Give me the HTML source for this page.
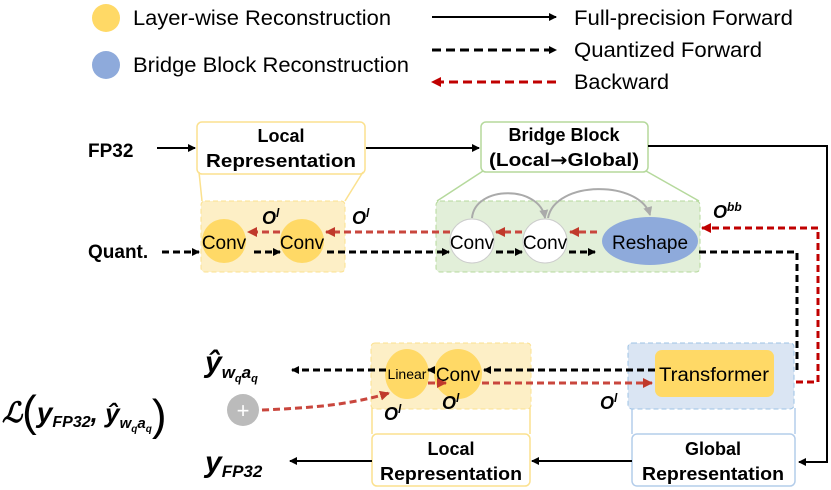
<!DOCTYPE html>
<html><head><meta charset="utf-8"><style>body{margin:0;background:#fff}svg{display:block}text{font-family:"Liberation Sans",sans-serif}</style></head><body>
<svg width="831" height="490" viewBox="0 0 831 490" xmlns="http://www.w3.org/2000/svg">
<defs>
<marker id="ak" markerWidth="8" markerHeight="8" refX="7" refY="4" orient="auto" markerUnits="userSpaceOnUse"><path d="M0,0 L8,4 L0,8z" fill="#000"/></marker>
<marker id="ar" markerWidth="10" markerHeight="10" refX="9" refY="5" orient="auto" markerUnits="userSpaceOnUse"><path d="M0,0 L10,5 L0,10z" fill="#c0392b"/></marker>
<marker id="ad" markerWidth="10" markerHeight="10" refX="9" refY="5" orient="auto" markerUnits="userSpaceOnUse"><path d="M0,0 L10,5 L0,10z" fill="#c00000"/></marker>
<marker id="ag" markerWidth="9" markerHeight="9" refX="8" refY="4.5" orient="auto" markerUnits="userSpaceOnUse"><path d="M0,0 L9,4.5 L0,9z" fill="#aaa"/></marker>
</defs>
<!-- legend -->
<circle cx="106" cy="18" r="14" fill="#ffd966"/>
<circle cx="106" cy="65" r="14" fill="#8eaadb"/>
<text x="133" y="25" font-size="21" textLength="258" lengthAdjust="spacingAndGlyphs">Layer-wise Reconstruction</text>
<text x="133" y="72" font-size="21" textLength="276" lengthAdjust="spacingAndGlyphs">Bridge Block Reconstruction</text>
<line x1="432" y1="17" x2="556" y2="17" stroke="#000" stroke-width="2" marker-end="url(#ak)"/>
<line x1="432" y1="50" x2="556" y2="50" stroke="#000" stroke-width="3" stroke-dasharray="9,5" marker-end="url(#ak)"/>
<line x1="556" y1="82" x2="432" y2="82" stroke="#c00000" stroke-width="3" stroke-dasharray="9,5" marker-end="url(#ad)"/>
<text x="574" y="25" font-size="21" textLength="219" lengthAdjust="spacingAndGlyphs">Full-precision Forward</text>
<text x="574" y="57" font-size="21" textLength="188" lengthAdjust="spacingAndGlyphs">Quantized Forward</text>
<text x="574" y="89" font-size="21" textLength="95" lengthAdjust="spacingAndGlyphs">Backward</text>
<!-- top row -->
<text x="88" y="157" font-size="19" font-weight="bold">FP32</text>
<line x1="157" y1="148" x2="195" y2="148" stroke="#000" stroke-width="2" marker-end="url(#ak)"/>
<rect x="197" y="122" width="168" height="52" rx="5" fill="#fff" stroke="#fbe18f" stroke-width="1.5"/>
<text x="281" y="142" font-size="18" font-weight="bold" text-anchor="middle">Local</text>
<text x="281" y="167" font-size="18" font-weight="bold" text-anchor="middle" textLength="150" lengthAdjust="spacingAndGlyphs">Representation</text>
<line x1="366" y1="148" x2="479" y2="148" stroke="#000" stroke-width="2" marker-end="url(#ak)"/>
<rect x="481" y="122" width="167" height="50" rx="5" fill="#fff" stroke="#b5d99c" stroke-width="1.5"/>
<text x="564" y="141" font-size="18" font-weight="bold" text-anchor="middle">Bridge Block</text>
<text x="564" y="166" font-size="18" font-weight="bold" text-anchor="middle" textLength="150" lengthAdjust="spacingAndGlyphs">(Local<tspan font-family="DejaVu Sans">→</tspan>Global)</text>
<polyline points="648,146 827,146 827,462 799,462" fill="none" stroke="#000" stroke-width="2" marker-end="url(#ak)"/>
<!-- trapezoids -->
<line x1="199" y1="172" x2="202" y2="201" stroke="#fbe18f" stroke-width="1.5"/>
<line x1="363" y1="172" x2="345" y2="201" stroke="#fbe18f" stroke-width="1.5"/>
<line x1="483" y1="171" x2="437" y2="201" stroke="#b5d99c" stroke-width="1.5"/>
<line x1="646" y1="171" x2="699" y2="201" stroke="#b5d99c" stroke-width="1.5"/>
<!-- yellow panel -->
<rect x="201" y="201" width="144" height="71" rx="4" fill="#fdefc6" stroke="#fbe18f" stroke-dasharray="5,3"/>
<circle cx="224" cy="241" r="22" fill="#ffd966"/>
<circle cx="302" cy="241" r="22" fill="#ffd966"/>
<text x="224" y="249" font-size="19" text-anchor="middle">Conv</text>
<text x="302" y="249" font-size="19" text-anchor="middle">Conv</text>
<!-- green panel -->
<rect x="436" y="201" width="264" height="71" rx="4" fill="#e2efd9" stroke="#b5d99c" stroke-dasharray="5,3"/>
<path d="M472,218 C475,185 540,185 545,218" fill="none" stroke="#aaa" stroke-width="2" marker-end="url(#ag)"/>
<path d="M548,218 C555,180 640,180 650,215" fill="none" stroke="#aaa" stroke-width="2" marker-end="url(#ag)"/>
<circle cx="472" cy="241" r="22" fill="#fff" stroke="#ccc"/>
<circle cx="545" cy="241" r="22" fill="#fff" stroke="#ccc"/>
<ellipse cx="650" cy="241" rx="48" ry="24" fill="#8eaadb"/>
<text x="472" y="249" font-size="19" text-anchor="middle">Conv</text>
<text x="545" y="249" font-size="19" text-anchor="middle">Conv</text>
<text x="650" y="249" font-size="19" text-anchor="middle">Reshape</text>
<!-- quant row -->
<text x="88" y="258" font-size="19" font-weight="bold">Quant.</text>
<line x1="162" y1="252" x2="199" y2="252" stroke="#000" stroke-width="3" stroke-dasharray="7,4" marker-end="url(#ak)"/>
<line x1="254" y1="252" x2="280" y2="252" stroke="#000" stroke-width="3" stroke-dasharray="7,4" marker-end="url(#ak)"/>
<line x1="327" y1="252" x2="449" y2="252" stroke="#000" stroke-width="3" stroke-dasharray="7,4" marker-end="url(#ak)"/>
<line x1="496" y1="252" x2="522" y2="252" stroke="#000" stroke-width="3" stroke-dasharray="7,4" marker-end="url(#ak)"/>
<line x1="569" y1="252" x2="595" y2="252" stroke="#000" stroke-width="3" stroke-dasharray="7,4" marker-end="url(#ak)"/>
<polyline points="699,252 797,252 797,370 776,370" fill="none" stroke="#000" stroke-width="3" stroke-dasharray="7,4" marker-end="url(#ak)"/>
<!-- red top -->
<line x1="280" y1="232" x2="248" y2="232" stroke="#c9463d" stroke-width="3" stroke-dasharray="7,4" marker-end="url(#ar)"/>
<line x1="450" y1="232" x2="326" y2="232" stroke="#c9463d" stroke-width="3" stroke-dasharray="7,4" marker-end="url(#ar)"/>
<line x1="522" y1="232" x2="496" y2="232" stroke="#c9463d" stroke-width="3" stroke-dasharray="7,4" marker-end="url(#ar)"/>
<line x1="597" y1="232" x2="570" y2="232" stroke="#c9463d" stroke-width="3" stroke-dasharray="7,4" marker-end="url(#ar)"/>
<polyline points="774,382 818,382 818,228 702,228" fill="none" stroke="#c00000" stroke-width="3" stroke-dasharray="7,4" marker-end="url(#ad)"/>
<text x="262" y="224" font-size="18" font-weight="bold" font-style="italic" font-family="Liberation Serif">O<tspan font-size="12" dy="-7">l</tspan></text>
<text x="352" y="224" font-size="18" font-weight="bold" font-style="italic" font-family="Liberation Serif">O<tspan font-size="12" dy="-7">l</tspan></text>
<text x="713" y="218" font-size="18" font-weight="bold" font-style="italic" font-family="Liberation Serif">O<tspan font-size="12" dy="-7">bb</tspan></text>
<!-- bottom panels -->
<line x1="372" y1="408" x2="372" y2="434" stroke="#fbe18f" stroke-width="1.5"/>
<line x1="530" y1="408" x2="530" y2="434" stroke="#fbe18f" stroke-width="1.5"/>
<line x1="632" y1="408" x2="632" y2="434" stroke="#b4cdea" stroke-width="1.5"/>
<line x1="795" y1="408" x2="795" y2="434" stroke="#b4cdea" stroke-width="1.5"/>
<rect x="371" y="343" width="160" height="66" rx="4" fill="#fdefc6" stroke="#fbe18f" stroke-dasharray="5,3"/>
<rect x="628" y="343" width="166" height="66" rx="4" fill="#dae5f3" stroke="#9dc3e6" stroke-dasharray="5,3"/>
<rect x="655" y="350" width="119" height="47" rx="7" fill="#ffd966"/>
<text x="714" y="381" font-size="19" text-anchor="middle" textLength="110" lengthAdjust="spacingAndGlyphs">Transformer</text>
<ellipse cx="407" cy="374" rx="22" ry="25" fill="#ffd966"/>
<ellipse cx="458" cy="374" rx="24" ry="25" fill="#ffd966"/>
<text x="407" y="379" font-size="14" text-anchor="middle">Linear</text>
<text x="458" y="381" font-size="19" text-anchor="middle">Conv</text>
<line x1="655" y1="370" x2="484" y2="370" stroke="#000" stroke-width="3" stroke-dasharray="7,4" marker-end="url(#ak)"/>
<line x1="434" y1="370" x2="428" y2="370" stroke="#000" stroke-width="3" marker-end="url(#ak)"/>
<line x1="386" y1="370" x2="292" y2="370" stroke="#000" stroke-width="3" stroke-dasharray="7,4" marker-end="url(#ak)"/>
<line x1="428" y1="383" x2="446" y2="383" stroke="#c9463d" stroke-width="3" stroke-dasharray="7,4" marker-end="url(#ar)"/>
<line x1="482" y1="383" x2="652" y2="383" stroke="#c9463d" stroke-width="3" stroke-dasharray="7,4" marker-end="url(#ar)"/>
<path d="M262,410 C310,408 350,405 389,393" fill="none" stroke="#c9463d" stroke-width="3" stroke-dasharray="7,4" marker-end="url(#ar)"/>
<circle cx="243" cy="410" r="16" fill="#bbb"/>
<text x="243" y="418" font-size="22" fill="#fff" text-anchor="middle">+</text>
<text x="384" y="420" font-size="18" font-weight="bold" font-style="italic" font-family="Liberation Serif">O<tspan font-size="12" dy="-7">l</tspan></text>
<text x="442" y="409" font-size="18" font-weight="bold" font-style="italic" font-family="Liberation Serif">O<tspan font-size="12" dy="-7">l</tspan></text>
<text x="600" y="409" font-size="18" font-weight="bold" font-style="italic" font-family="Liberation Serif">O<tspan font-size="12" dy="-7">l</tspan></text>
<!-- bottom boxes -->
<rect x="372" y="434" width="158" height="52" rx="5" fill="#fff" stroke="#fbe18f" stroke-width="1.5"/>
<text x="451" y="455" font-size="18" font-weight="bold" text-anchor="middle">Local</text>
<text x="451" y="480" font-size="18" font-weight="bold" text-anchor="middle" textLength="142" lengthAdjust="spacingAndGlyphs">Representation</text>
<rect x="632" y="434" width="163" height="52" rx="5" fill="#fff" stroke="#b4cdea" stroke-width="1.5"/>
<text x="713" y="455" font-size="18" font-weight="bold" text-anchor="middle">Global</text>
<text x="713" y="480" font-size="18" font-weight="bold" text-anchor="middle" textLength="142" lengthAdjust="spacingAndGlyphs">Representation</text>
<line x1="632" y1="461" x2="532" y2="461" stroke="#000" stroke-width="2" marker-end="url(#ak)"/>
<line x1="372" y1="461" x2="290" y2="461" stroke="#000" stroke-width="2" marker-end="url(#ak)"/>
<!-- math labels -->
<g font-family="Liberation Serif" font-style="italic" font-weight="bold">
<text x="205" y="372" font-size="30">ŷ<tspan font-size="17" dy="6">w</tspan><tspan font-size="11" dy="4">q</tspan><tspan font-size="17" dy="-4">a</tspan><tspan font-size="11" dy="4">q</tspan></text>
<text x="205" y="472" font-size="30">y<tspan font-size="17" dy="5">FP32</tspan></text>
<text x="2" y="422" font-size="28">ℒ<tspan font-style="normal" font-weight="normal" font-size="44" dy="4">(</tspan><tspan font-size="28" dy="-4">y</tspan><tspan font-size="16" dy="5">FP32</tspan><tspan font-size="26" dy="-5">, ŷ</tspan><tspan font-size="15" dy="6">w</tspan><tspan font-size="10" dy="4">q</tspan><tspan font-size="15" dy="-4">a</tspan><tspan font-size="10" dy="4">q</tspan><tspan font-style="normal" font-weight="normal" font-size="44" dy="-2">)</tspan></text>
</g>
</svg>
</body></html>
